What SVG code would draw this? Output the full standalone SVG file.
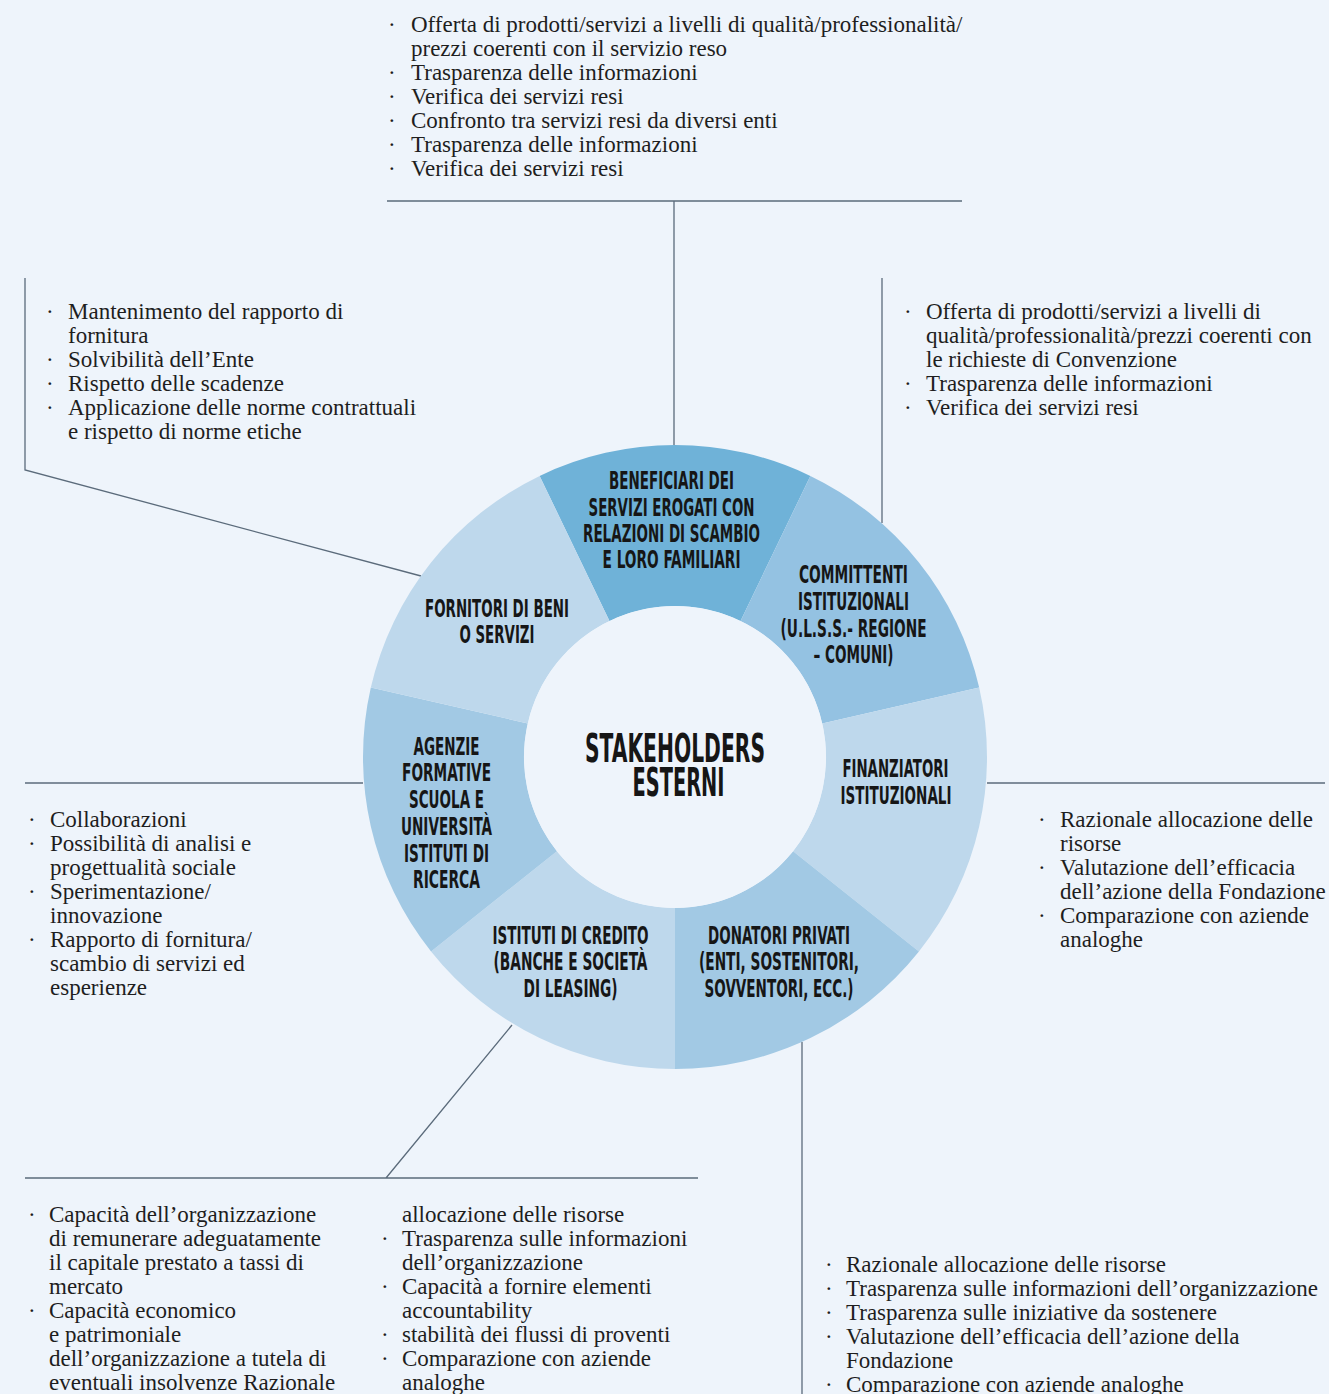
<svg xmlns="http://www.w3.org/2000/svg" width="1329" height="1394" viewBox="0 0 1329 1394">
<style>
.bg{fill:#eef4fb}
.lbl{font-family:"Liberation Sans Narrow","DejaVu Sans Condensed","Liberation Sans",sans-serif;font-weight:700;font-size:25px;fill:#161616;text-anchor:middle}
.big{font-size:39px}
.t{font-family:"Liberation Serif","Times New Roman",serif;font-size:23px;fill:#1e1e1e}
.con{stroke:#5b6b7b;stroke-width:1.3;fill:none}
.c1{fill:#6fb2d8}.c2{fill:#94c2e2}.c3{fill:#bed8ec}.c4{fill:#a2c9e4}
</style>
<rect class="bg" x="0" y="0" width="1329" height="1394"/>

<g id="connectors">
<path class="con" d="M387 201H962M674 201V445"/>
<path class="con" d="M25 278V470L421 576"/>
<path class="con" d="M882 278V523"/>
<path class="con" d="M25 783H363"/>
<path class="con" d="M987 783H1325"/>
<path class="con" d="M25 1178H698M386 1178L512 1025"/>
<path class="con" d="M802 1042V1394"/>
</g>

<g id="node-beneficiari">
<path class="c1" d="M539.63 475.9A312 312 0 0 1 810.37 475.9L740.52 620.95A151 151 0 0 0 609.48 620.95Z"/>
<g transform="translate(671.5,0) scale(0.58,1)"><text class="lbl"><tspan x="0" y="489" textLength="215.5" lengthAdjust="spacingAndGlyphs">BENEFICIARI DEI</tspan><tspan x="0" y="516" textLength="286.2" lengthAdjust="spacingAndGlyphs">SERVIZI EROGATI CON</tspan><tspan x="0" y="542" textLength="305.2" lengthAdjust="spacingAndGlyphs">RELAZIONI DI SCAMBIO</tspan><tspan x="0" y="568" textLength="237.9" lengthAdjust="spacingAndGlyphs">E LORO FAMILIARI</tspan></text></g>
</g>
<g id="node-committenti">
<path class="c2" d="M810.37 475.9A312 312 0 0 1 979.18 687.57L822.21 723.4A151 151 0 0 0 740.52 620.95Z"/>
<g transform="translate(853.5,0) scale(0.58,1)"><text class="lbl"><tspan x="0" y="583" textLength="187.9" lengthAdjust="spacingAndGlyphs">COMMITTENTI</tspan><tspan x="0" y="610" textLength="191.4" lengthAdjust="spacingAndGlyphs">ISTITUZIONALI</tspan><tspan x="0" y="637" textLength="251.7" lengthAdjust="spacingAndGlyphs">(U.L.S.S.- REGIONE</tspan><tspan x="0" y="663" textLength="137.9" lengthAdjust="spacingAndGlyphs">– COMUNI)</tspan></text></g>
</g>
<g id="node-finanziatori">
<path class="c3" d="M979.18 687.57A312 312 0 0 1 918.93 951.53L793.06 851.15A151 151 0 0 0 822.21 723.4Z"/>
<g transform="translate(896,0) scale(0.58,1)"><text class="lbl"><tspan x="-1" y="777" textLength="182.8" lengthAdjust="spacingAndGlyphs">FINANZIATORI</tspan><tspan x="0" y="804" textLength="191.4" lengthAdjust="spacingAndGlyphs">ISTITUZIONALI</tspan></text></g>
</g>
<g id="node-donatori">
<path class="c4" d="M918.93 951.53A312 312 0 0 1 675 1069L675 908A151 151 0 0 0 793.06 851.15Z"/>
<g transform="translate(779,0) scale(0.58,1)"><text class="lbl"><tspan x="0" y="944" textLength="244.8" lengthAdjust="spacingAndGlyphs">DONATORI PRIVATI</tspan><tspan x="0" y="970" textLength="275.9" lengthAdjust="spacingAndGlyphs">(ENTI, SOSTENITORI,</tspan><tspan x="0" y="997" textLength="256.9" lengthAdjust="spacingAndGlyphs">SOVVENTORI, ECC.)</tspan></text></g>
</g>
<g id="node-istituti">
<path class="c3" d="M675 1069A312 312 0 0 1 431.07 951.53L556.94 851.15A151 151 0 0 0 675 908Z"/>
<g transform="translate(570.5,0) scale(0.58,1)"><text class="lbl"><tspan x="0" y="944" textLength="269" lengthAdjust="spacingAndGlyphs">ISTITUTI DI CREDITO</tspan><tspan x="0" y="970" textLength="265.5" lengthAdjust="spacingAndGlyphs">(BANCHE E SOCIETÀ</tspan><tspan x="0" y="997" textLength="162.1" lengthAdjust="spacingAndGlyphs">DI LEASING)</tspan></text></g>
</g>
<g id="node-agenzie">
<path class="c4" d="M431.07 951.53A312 312 0 0 1 370.82 687.57L527.79 723.4A151 151 0 0 0 556.94 851.15Z"/>
<g transform="translate(446.5,0) scale(0.58,1)"><text class="lbl"><tspan x="0" y="755" textLength="113.8" lengthAdjust="spacingAndGlyphs">AGENZIE</tspan><tspan x="0" y="781" textLength="153.4" lengthAdjust="spacingAndGlyphs">FORMATIVE</tspan><tspan x="0" y="808" textLength="129.3" lengthAdjust="spacingAndGlyphs">SCUOLA E</tspan><tspan x="0" y="835" textLength="156.9" lengthAdjust="spacingAndGlyphs">UNIVERSITÀ</tspan><tspan x="0" y="862" textLength="146.6" lengthAdjust="spacingAndGlyphs">ISTITUTI DI</tspan><tspan x="0" y="888" textLength="115.5" lengthAdjust="spacingAndGlyphs">RICERCA</tspan></text></g>
</g>
<g id="node-fornitori">
<path class="c3" d="M370.82 687.57A312 312 0 0 1 539.63 475.9L609.48 620.95A151 151 0 0 0 527.79 723.4Z"/>
<g transform="translate(497,0) scale(0.58,1)"><text class="lbl"><tspan x="0" y="617" textLength="248.3" lengthAdjust="spacingAndGlyphs">FORNITORI DI BENI</tspan><tspan x="0" y="643" textLength="129.3" lengthAdjust="spacingAndGlyphs">O SERVIZI</tspan></text></g>
</g>
<g id="node-center">
<circle class="bg" cx="675" cy="757" r="151"/>
<g transform="translate(675,0) scale(0.58,1)"><text class="lbl big"><tspan x="0" y="762" textLength="310.3" lengthAdjust="spacingAndGlyphs">STAKEHOLDERS</tspan><tspan x="6" y="796" textLength="158.6" lengthAdjust="spacingAndGlyphs">ESTERNI</tspan></text></g>
</g>

<g id="notes-beneficiari" class="t" transform="translate(0,1.5)">
<text x="388" y="30">·</text><text x="411" y="30">Offerta di prodotti/servizi a livelli di qualità/professionalità/</text>
<text x="411" y="54">prezzi coerenti con il servizio reso</text>
<text x="388" y="78">·</text><text x="411" y="78">Trasparenza delle informazioni</text>
<text x="388" y="102">·</text><text x="411" y="102">Verifica dei servizi resi</text>
<text x="388" y="126">·</text><text x="411" y="126">Confronto tra servizi resi da diversi enti</text>
<text x="388" y="150">·</text><text x="411" y="150">Trasparenza delle informazioni</text>
<text x="388" y="174">·</text><text x="411" y="174">Verifica dei servizi resi</text>
</g>
<g id="notes-fornitori" class="t" transform="translate(0,1.5)">
<text x="46" y="317">·</text><text x="68" y="317">Mantenimento del rapporto di</text>
<text x="68" y="341">fornitura</text>
<text x="46" y="365">·</text><text x="68" y="365">Solvibilità dell’Ente</text>
<text x="46" y="389">·</text><text x="68" y="389">Rispetto delle scadenze</text>
<text x="46" y="413">·</text><text x="68" y="413">Applicazione delle norme contrattuali</text>
<text x="68" y="437">e rispetto di norme etiche</text>
</g>
<g id="notes-committenti" class="t" transform="translate(0,1.5)">
<text x="904" y="317">·</text><text x="926" y="317">Offerta di prodotti/servizi a livelli di</text>
<text x="926" y="341">qualità/professionalità/prezzi coerenti con</text>
<text x="926" y="365">le richieste di Convenzione</text>
<text x="904" y="389">·</text><text x="926" y="389">Trasparenza delle informazioni</text>
<text x="904" y="413">·</text><text x="926" y="413">Verifica dei servizi resi</text>
</g>
<g id="notes-agenzie" class="t" transform="translate(0,1.5)">
<text x="28" y="825">·</text><text x="50" y="825">Collaborazioni</text>
<text x="28" y="849">·</text><text x="50" y="849">Possibilità di analisi e</text>
<text x="50" y="873">progettualità sociale</text>
<text x="28" y="897">·</text><text x="50" y="897">Sperimentazione/</text>
<text x="50" y="921">innovazione</text>
<text x="28" y="945">·</text><text x="50" y="945">Rapporto di fornitura/</text>
<text x="50" y="969">scambio di servizi ed</text>
<text x="50" y="993">esperienze</text>
</g>
<g id="notes-finanziatori" class="t" transform="translate(0,1.5)">
<text x="1038" y="825">·</text><text x="1060" y="825">Razionale allocazione delle</text>
<text x="1060" y="849">risorse</text>
<text x="1038" y="873">·</text><text x="1060" y="873">Valutazione dell’efficacia</text>
<text x="1060" y="897">dell’azione della Fondazione</text>
<text x="1038" y="921">·</text><text x="1060" y="921">Comparazione con aziende</text>
<text x="1060" y="945">analoghe</text>
</g>
<g id="notes-istituti" class="t" transform="translate(0,1.5)">
<text x="28" y="1220">·</text><text x="49" y="1220">Capacità dell’organizzazione</text>
<text x="49" y="1244">di remunerare adeguatamente</text>
<text x="49" y="1268">il capitale prestato a tassi di</text>
<text x="49" y="1292">mercato</text>
<text x="28" y="1316">·</text><text x="49" y="1316">Capacità economico</text>
<text x="49" y="1340">e patrimoniale</text>
<text x="49" y="1364">dell’organizzazione a tutela di</text>
<text x="49" y="1388">eventuali insolvenze Razionale</text>
<text x="402" y="1220">allocazione delle risorse</text>
<text x="381" y="1244">·</text><text x="402" y="1244">Trasparenza sulle informazioni</text>
<text x="402" y="1268">dell’organizzazione</text>
<text x="381" y="1292">·</text><text x="402" y="1292">Capacità a fornire elementi</text>
<text x="402" y="1316">accountability</text>
<text x="381" y="1340">·</text><text x="402" y="1340">stabilità dei flussi di proventi</text>
<text x="381" y="1364">·</text><text x="402" y="1364">Comparazione con aziende</text>
<text x="402" y="1388">analoghe</text>
</g>
<g id="notes-donatori" class="t" transform="translate(0,1.5)">
<text x="825" y="1270">·</text><text x="846" y="1270">Razionale allocazione delle risorse</text>
<text x="825" y="1294">·</text><text x="846" y="1294">Trasparenza sulle informazioni dell’organizzazione</text>
<text x="825" y="1318">·</text><text x="846" y="1318">Trasparenza sulle iniziative da sostenere</text>
<text x="825" y="1342">·</text><text x="846" y="1342">Valutazione dell’efficacia dell’azione della</text>
<text x="846" y="1366">Fondazione</text>
<text x="825" y="1390">·</text><text x="846" y="1390">Comparazione con aziende analoghe</text>
</g>
</svg>
